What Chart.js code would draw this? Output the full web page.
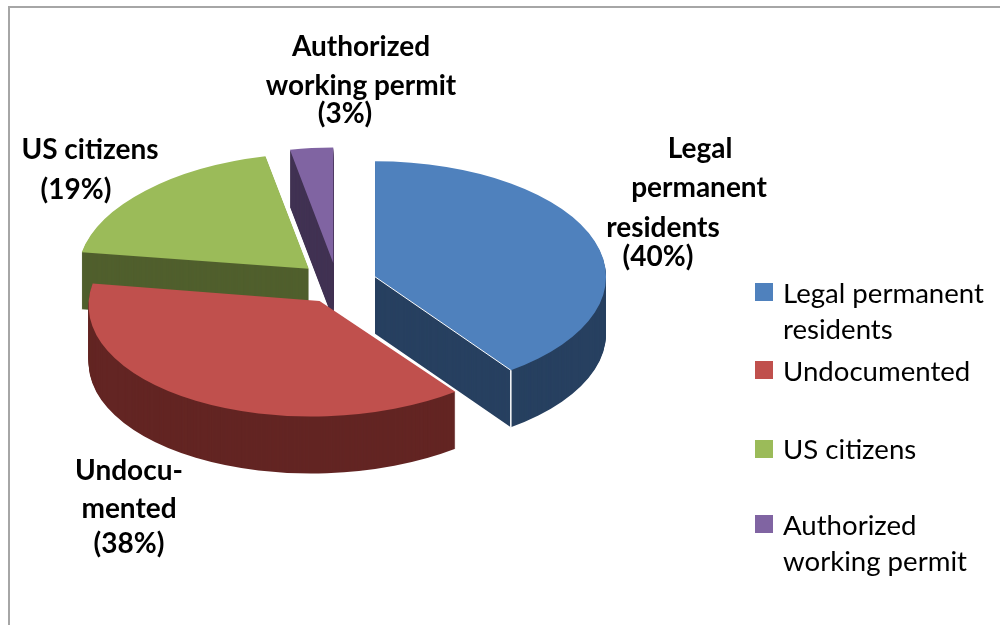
<!DOCTYPE html>
<html>
<head>
<meta charset="utf-8">
<style>html,body{margin:0;padding:0;background:#fff}canvas{display:block}</style>
<script src="https://cdn.jsdelivr.net/npm/chart.js@4"></script>
</head>
<body>
<canvas id="c" width="1000" height="625"></canvas>
<script>
const categories = ["Legal permanent residents", "Undocumented", "US citizens", "Authorized working permit"];
const shares = [40, 38, 19, 3];
const topColors = ["#4F81BD", "#C0504D", "#9BBB59", "#8064A2"];
const wallColors = ["#274060", "#632523", "#505F2D", "#413253"];
const calloutLines = [["Legal", "permanent", "residents"], ["Undocu-", "mented"], ["US citizens"], ["Authorized", "working permit"]];
const legendLines = [["Legal permanent", "residents"], ["Undocumented"], ["US citizens"], ["Authorized", "working permit"]];

// layout (not data)
const FONT = 'Lato, "Open Sans", sans-serif';
const SQUASH = 0.5, DEPTH = 57, EXPLODE = 40, RADIUS = 231;
const perspective = [
  { dx: 0, dy: 0, shear: 0 },
  { dx: 4, dy: 1, shear: -0.019 },
  { dx: 0, dy: 0, shear: -0.022 },
  { dx: 0, dy: 0, shear: 0 }
];
const calloutPos = [
  [[700,158],[699,197],[663,237],[658,266]],
  [[129,480],[129,518],[129,553]],
  [[90,159],[76,199]],
  [[361,56],[361,95],[345,123]]
];
const legendSwatchY = [283, 361, 440, 515];
const legendBaselines = [[303,339],[381],[459],[535,571]];

const pie3d = {
  id: 'pie3d',
  beforeDraw(chart) {
    const ctx = chart.ctx;
    ctx.save();
    ctx.fillStyle = '#fff';
    ctx.fillRect(0, 0, 1000, 625);
    ctx.fillStyle = '#A6A6A6';
    ctx.fillRect(8, 6, 992, 2);
    ctx.fillRect(8, 6, 2, 619);
    ctx.restore();
  },
  beforeDatasetsDraw(chart) {
    const ctx = chart.ctx;
    const meta = chart.getDatasetMeta(0);
    const drawArc = Chart.elements.ArcElement.prototype.draw;
    const apexOf = (arc) => {
      const mid = (arc.startAngle + arc.endAngle) / 2;
      return [arc.x + Math.cos(mid) * EXPLODE, arc.y + Math.sin(mid) * EXPLODE * SQUASH];
    };
    const place = (arc, i, lift) => {
      const [ox, oy] = apexOf(arc);
      const p = perspective[i];
      ctx.translate(ox + p.dx, oy + p.dy + lift);
      ctx.transform(1, p.shear, 0, 1, 0, 0);
      ctx.scale(1, SQUASH);
      ctx.translate(-arc.x, -arc.y);
    };
    // painter's order: back slices first
    [3, 2, 1, 0].forEach(i => {
      const arc = meta.data[i];
      const wall = Object.create(arc);
      wall.options = Object.assign({}, arc.options, { backgroundColor: wallColors[i], borderWidth: 0 });
      for (let k = DEPTH; k >= 1; k--) {
        ctx.save();
        place(arc, i, k);
        drawArc.call(wall, ctx);
        ctx.restore();
      }
      ctx.save();
      place(arc, i, 0);
      drawArc.call(arc, ctx);
      ctx.restore();
      if (i === 0) {
        // white seam along the front corner of the exploded slice
        const [ox, oy] = apexOf(arc);
        const px = ox + Math.cos(arc.endAngle) * arc.outerRadius;
        const py = oy + Math.sin(arc.endAngle) * arc.outerRadius * SQUASH;
        ctx.save();
        ctx.strokeStyle = '#fff';
        ctx.lineWidth = 1;
        ctx.beginPath();
        ctx.moveTo(ox, oy);
        ctx.lineTo(px, py);
        ctx.stroke();
        ctx.lineWidth = 1.5;
        ctx.beginPath();
        ctx.moveTo(px, py);
        ctx.lineTo(px, py + DEPTH);
        ctx.stroke();
        ctx.restore();
      }
    });
    return false;
  },
  afterDraw(chart) {
    const ctx = chart.ctx;
    ctx.save();
    ctx.fillStyle = '#000';
    ctx.textBaseline = 'alphabetic';
    ctx.textAlign = 'center';
    ctx.font = 'bold 28px ' + FONT;
    categories.forEach((c, i) => {
      const lines = calloutLines[i].concat('(' + shares[i] + '%)');
      lines.forEach((t, j) => ctx.fillText(t, calloutPos[i][j][0], calloutPos[i][j][1]));
    });
    ctx.textAlign = 'left';
    ctx.font = '27.6px ' + FONT;
    categories.forEach((c, i) => {
      ctx.fillStyle = topColors[i];
      ctx.fillRect(755, legendSwatchY[i], 18, 18);
      ctx.fillStyle = '#000';
      legendLines[i].forEach((t, j) => ctx.fillText(t, 783, legendBaselines[i][j]));
    });
    ctx.restore();
  }
};

new Chart(document.getElementById('c'), {
  type: 'pie',
  data: {
    labels: categories,
    datasets: [{ data: shares, backgroundColor: topColors, borderWidth: 0, clip: false }]
  },
  options: {
    responsive: false,
    animation: false,
    radius: RADIUS,
    layout: { padding: { left: 0, top: 0, right: 326, bottom: 59 } },
    plugins: { legend: { display: false }, tooltip: { enabled: false }, title: { display: false } }
  },
  plugins: [pie3d]
});
</script>
</body>
</html>
